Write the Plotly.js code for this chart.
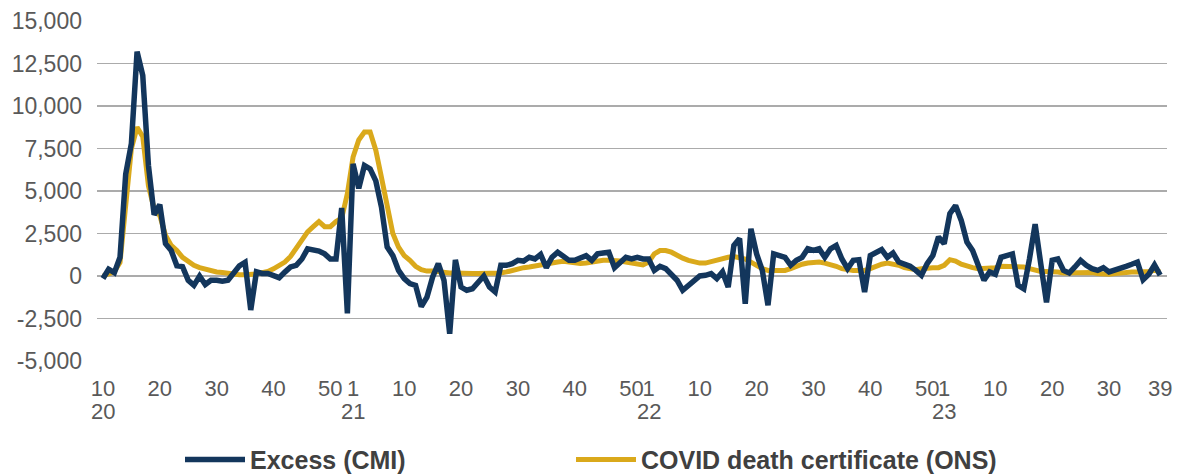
<!DOCTYPE html>
<html>
<head>
<meta charset="utf-8">
<script src="https://cdn.plot.ly/plotly-3.0.1.min.js"></script>
<style>
  html, body { margin: 0; padding: 0; background: #ffffff; }
  #chart { width: 1178px; height: 475px; }
</style>
</head>
<body>
<div id="chart"></div>
<script>
// Weeks: 2020 wk10 .. 2020 wk53, 2021 wk1..52, 2022 wk1..52, 2023 wk1..39 (187 weeks)
const yearWeeks = [[2020, 10, 53], [2021, 1, 52], [2022, 1, 52], [2023, 1, 39]];

const excessCMI = [
  -150, 400, 200, 1100, 6000, 7800, 13200, 11800, 6500, 3600,
  4200, 1900, 1500, 600, 550, -250, -550, 0, -500, -250,
  -250, -300, -250, 200, 600, 800, -2000, 250, 150, 150,
  0, -100, 230, 530, 630, 1000, 1600, 1550, 1470, 1300,
  1000, 1000, 4000, -2200, 6600, 5150, 6500, 6300, 5600, 4050,
  1700, 1200, 330, -150, -450, -550, -1800, -1250, -60, 730,
  -250, -3400, 950, -650, -840, -750, -350, 0, -650, -940,
  630, 630, 730, 920, 880, 1100, 1000, 1270, 490, 1100,
  1400, 1200, 920, 920, 1100, 1200, 920, 1300, 1350, 1400,
  490, 820, 1100, 1000, 1100, 1000, 1000, 330, 570, 430,
  140, -250, -840, -550, -250, 0, 40, 140, -150, 240,
  -650, 1800, 2200, -1630, 2780, 1300, 330, -1720, 1300, 1200,
  1100, 630, 920, 1100, 1600, 1500, 1600, 1100, 1600, 1800,
  1000, 430, 920, 960, -940, 1200, 1400, 1550, 1100, 1350,
  820, 690, 570, 330, 40, 730, 1200, 2300, 1900, 3670,
  4150, 3270, 2000, 1500, 530, -250, 240, 100, 1100, 1200,
  1300, -550, -750, 1000, 3050, 700, -1550, 920, 1000, 330,
  180, 530, 920, 630, 430, 330, 490, 240, 330, 430,
  570, 690, 820, -220, 100, 650, 50
];

const covidONS = [
  0, 100, 250, 800, 4300, 7500, 8750, 8200, 5300, 3950,
  3550, 2400, 1800, 1500, 1100, 820, 630, 490, 390, 290,
  235, 200, 140, 100, 80, 80, 80, 120, 200, 270,
  420, 630, 820, 1150, 1600, 2100, 2600, 2900, 3200, 2900,
  2900, 3200, 3400, 4850, 7000, 8000, 8470, 8470, 7400, 5800,
  4050, 2500, 1700, 1200, 920, 570, 370, 290, 290, 235,
  180, 180, 180, 150, 150, 150, 150, 150, 150, 150,
  180, 240, 330, 430, 490, 530, 570, 630, 690, 760,
  820, 860, 820, 760, 730, 760, 820, 880, 920, 920,
  920, 880, 820, 760, 730, 650, 820, 1300, 1500, 1500,
  1400, 1200, 1050, 920, 820, 760, 760, 860, 960, 1000,
  1100, 1150, 1100, 1000, 820, 630, 430, 330, 330, 330,
  330, 430, 570, 690, 760, 820, 820, 760, 690, 570,
  430, 370, 330, 330, 330, 430, 570, 690, 760, 730,
  630, 490, 430, 370, 430, 490, 490, 490, 630, 960,
  880, 690, 570, 490, 430, 430, 490, 490, 570, 570,
  570, 570, 530, 430, 330, 270, 270, 270, 240, 180,
  180, 240, 240, 240, 200, 140, 100, 100, 140, 180,
  240, 240, 240, 240, 270, 330, 240
];

// Tick labels: week numbers; year labels under the first week shown of each year
const tickWeeks = [
  [2020, 10, '10'], [2020, 20, '20'], [2020, 30, '30'], [2020, 40, '40'], [2020, 50, '50'],
  [2021, 1, '1'], [2021, 10, '10'], [2021, 20, '20'], [2021, 30, '30'], [2021, 40, '40'], [2021, 50, '50'],
  [2022, 1, '1'], [2022, 10, '10'], [2022, 20, '20'], [2022, 30, '30'], [2022, 40, '40'], [2022, 50, '50'],
  [2023, 1, '1'], [2023, 10, '10'], [2023, 20, '20'], [2023, 30, '30'], [2023, 39, '39']
];
const yearLabels = [[2020, 10, '20'], [2021, 1, '21'], [2022, 1, '22'], [2023, 1, '23']];

// Y-axis ticks (hyphen-minus as in the original)
const yTickVals = [-5000, -2500, 0, 2500, 5000, 7500, 10000, 12500, 15000];
const yTickText = ['-5,000', '-2,500', '0', '2,500', '5,000', '7,500', '10,000', '12,500', '15,000'];

// Build sequential week index
const weekIndex = {};
const xIdx = [];
let k = 0;
yearWeeks.forEach(([y, a, b]) => {
  for (let w = a; w <= b; w++) { weekIndex[y + '-' + w] = k; xIdx.push(k); k++; }
});
const tickvals = tickWeeks.map(t => weekIndex[t[0] + '-' + t[1]]);
const ticktext = tickWeeks.map(t => t[2]);

const NAVY = '#13365C';
const GOLD = '#DAA91B';
const FONT = 'Liberation Sans, Arial, sans-serif';
const LEGEND_FONT = { family: FONT, size: 25, color: '#404040', weight: 'bold' };

const traces = [
  {
    x: xIdx, y: covidONS, type: 'scatter', mode: 'lines',
    name: 'COVID death certificate (ONS)', legend: 'legend2',
    line: { color: GOLD, width: 5, shape: 'linear' },
    hoverinfo: 'skip'
  },
  {
    x: xIdx, y: excessCMI, type: 'scatter', mode: 'lines',
    name: 'Excess (CMI)', legend: 'legend',
    line: { color: NAVY, width: 5.5, shape: 'linear' },
    hoverinfo: 'skip'
  }
];

const annotations = yearLabels.map(t => ({
  xref: 'x', x: weekIndex[t[0] + '-' + t[1]],
  yref: 'paper', y: -0.15, yanchor: 'middle', xanchor: 'center',
  text: t[2], showarrow: false,
  font: { family: FONT, size: 22, color: '#595959' }
}));

const layout = {
  width: 1178, height: 475,
  margin: { l: 97, r: 11, t: 21, b: 114, autoexpand: false },
  paper_bgcolor: '#ffffff', plot_bgcolor: '#ffffff',
  font: { family: FONT, size: 22, color: '#595959' },
  showlegend: true,
  legend: {
    orientation: 'h', xref: 'container', x: 180 / 1178, xanchor: 'left',
    yref: 'container', y: 0.032, yanchor: 'middle',
    font: LEGEND_FONT, itemwidth: 60, bgcolor: 'rgba(0,0,0,0)'
  },
  legend2: {
    orientation: 'h', xref: 'container', x: 571 / 1178, xanchor: 'left',
    yref: 'container', y: 0.032, yanchor: 'middle',
    font: LEGEND_FONT, itemwidth: 60, bgcolor: 'rgba(0,0,0,0)'
  },
  annotations: annotations,
  xaxis: {
    type: 'linear', range: [-1.05, 187.2], automargin: false,
    tickmode: 'array', tickvals: tickvals, ticktext: ticktext,
    tickangle: 0, showgrid: false, zeroline: false, showline: false,
    ticks: '', ticklabelstandoff: 12,
    tickfont: { family: FONT, size: 22, color: '#595959' }
  },
  yaxis: {
    range: [-5000, 15000], tickmode: 'array', tickvals: yTickVals, ticktext: yTickText,
    automargin: false,
    showgrid: true, gridcolor: '#ABABAB', gridwidth: 1.3,
    zeroline: false, showline: false, ticks: '', ticklabelstandoff: 14,
    tickfont: { family: FONT, size: 23, color: '#595959' }
  }
};

Plotly.newPlot('chart', traces, layout, { staticPlot: true, displayModeBar: false });
</script>
</body>
</html>
